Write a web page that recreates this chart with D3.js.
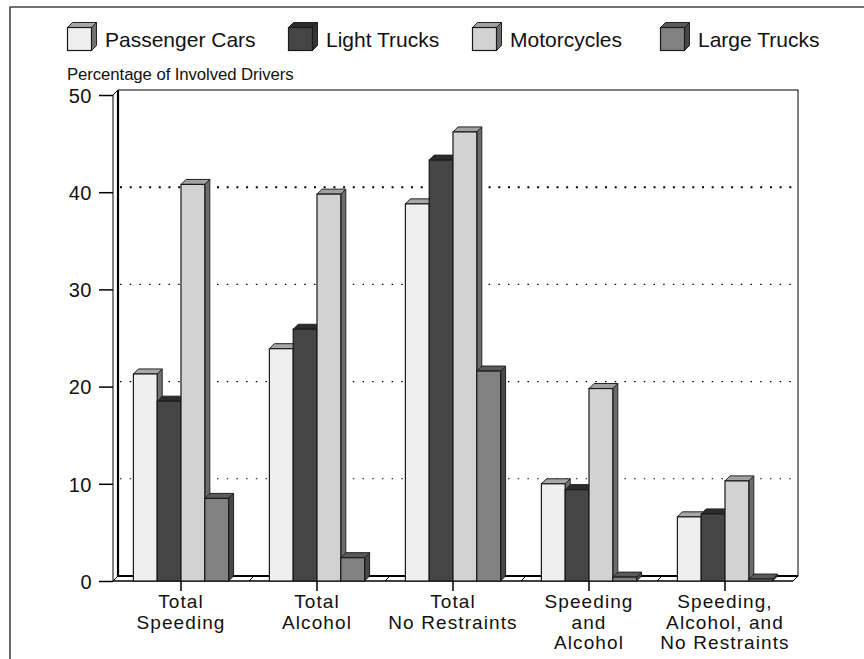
<!DOCTYPE html>
<html>
<head>
<meta charset="utf-8">
<script src="https://cdn.jsdelivr.net/npm/d3@7"></script>
<style>
  html, body { margin: 0; padding: 0; background: #fff; }
  svg { display: block; font-family: "Liberation Sans", Arial, Helvetica, sans-serif; }
</style>
</head>
<body>
<svg id="chart" width="864" height="659"></svg>
<script>
// Driver involvement by vehicle type (percent of involved drivers)
const categories = [
  ["Total", "Speeding"],
  ["Total", "Alcohol"],
  ["Total", "No Restraints"],
  ["Speeding", "and", "Alcohol"],
  ["Speeding,", "Alcohol, and", "No Restraints"]
];
const seriesNames = ["Passenger Cars", "Light Trucks", "Motorcycles", "Large Trucks"];
const passengerCars = [21.3, 23.9, 38.8, 10.0, 6.6];
const lightTrucks   = [18.5, 25.9, 43.3, 9.4, 6.9];
const motorcycles   = [40.8, 39.8, 46.2, 19.8, 10.3];
const largeTrucks   = [8.5, 2.4, 21.6, 0.4, 0.2];
const yTicks = [0, 10, 20, 30, 40, 50];
const yTitle = "Percentage of Involved Drivers";

const seriesValues = [passengerCars, lightTrucks, motorcycles, largeTrucks];
// front / top / side shades for each series
const shades = [
  { front: "#efefef", top: "#a8a8a8", side: "#727272" },
  { front: "#454545", top: "#2c2c2c", side: "#353535" },
  { front: "#d2d2d2", top: "#a2a2a2", side: "#6c6c6c" },
  { front: "#818181", top: "#5a5a5a", side: "#474747" }
];

const svg = d3.select("#chart");
const DX = 5, DY = 5;           // depth offset of the 3D box

// outer frame
svg.append("path")
  .attr("d", "M10,659 V7 H864")
  .attr("fill", "none").attr("stroke", "#444").attr("stroke-width", 1.6);

// scales
const x = d3.scaleBand().domain(d3.range(categories.length)).range([113, 793]).paddingInner(0).paddingOuter(0);
const y = d3.scaleLinear().domain([0, 50]).range([581, 95]);
const barW = 23.8;

function box(g, x0, yTop, yBot, w, sh) {
  // side face
  g.append("path")
    .attr("d", `M${x0 + w},${yTop} L${x0 + w + DX},${yTop - DY} L${x0 + w + DX},${yBot - DY} L${x0 + w},${yBot} Z`)
    .attr("fill", sh.side).attr("stroke", "#222").attr("stroke-width", 1).attr("stroke-linejoin", "round");
  // top face
  g.append("path")
    .attr("d", `M${x0},${yTop} L${x0 + DX},${yTop - DY} L${x0 + w + DX},${yTop - DY} L${x0 + w},${yTop} Z`)
    .attr("fill", sh.top).attr("stroke", "#222").attr("stroke-width", 1).attr("stroke-linejoin", "round");
  // front face
  g.append("rect")
    .attr("x", x0).attr("y", yTop).attr("width", w).attr("height", yBot - yTop)
    .attr("fill", sh.front).attr("stroke", "#1a1a1a").attr("stroke-width", 1.2);
}

// legend
const legendX = [67, 288, 472, 660];
const legend = svg.append("g");
seriesNames.forEach((name, i) => {
  const g = legend.append("g");
  box(g, legendX[i] + 0.5, 27.5, 50.5, 24, shades[i]);
  g.append("text")
    .attr("x", legendX[i] + 38).attr("y", 46.5)
    .attr("font-size", 21).attr("fill", "#111")
    .text(name);
});

// axis title
svg.append("text")
  .attr("x", 67).attr("y", 80)
  .attr("font-size", 16.8).attr("fill", "#111")
  .attr("letter-spacing", -0.1)
  .text(yTitle);

const plot = svg.append("g");
const xL = x.range()[0], xR = x.range()[1];

// back wall
plot.append("rect")
  .attr("x", xL + DX).attr("y", y(50) - DY)
  .attr("width", xR - xL).attr("height", y(0) - y(50))
  .attr("fill", "#fff").attr("stroke", "#000").attr("stroke-width", 1);
plot.append("path")
  .attr("d", `M${xL + DX},${y(50) - DY} V${y(0) - DY} H${xR + DX}`)
  .attr("fill", "none").attr("stroke", "#000").attr("stroke-width", 2.2);

// dotted gridlines on the back wall
plot.selectAll(".grid")
  .data(yTicks.filter(t => t > 0 && t < 50))
  .join("line")
  .attr("x1", xL + DX + 2).attr("x2", xR + DX)
  .attr("y1", d => y(d) - DY).attr("y2", d => y(d) - DY)
  .attr("stroke", "#000")
  .attr("stroke-width", d => d === 40 ? 2 : 1.1)
  .attr("stroke-dasharray", d => d === 40 ? "2,7.7" : "1.5,8.2");

// left side wall edge at top
plot.append("line")
  .attr("x1", xL).attr("y1", y(50)).attr("x2", xL + DX).attr("y2", y(50) - DY)
  .attr("stroke", "#000").attr("stroke-width", 1);

// floor: front edge, right edge, and category separators
plot.append("line")
  .attr("x1", xL).attr("x2", xR).attr("y1", y(0)).attr("y2", y(0))
  .attr("stroke", "#000").attr("stroke-width", 1.4);
const seps = d3.range(categories.length + 1).map(i => xL + i * x.bandwidth());
plot.selectAll(".sep")
  .data(seps)
  .join("line")
  .attr("x1", d => d).attr("y1", y(0))
  .attr("x2", d => d + DX).attr("y2", y(0) - DY)
  .attr("stroke", "#000").attr("stroke-width", 1);

// y axis
const yAxis = d3.axisLeft(y).tickValues(yTicks).tickSize(14).tickPadding(7).tickFormat(d3.format("d"));
const yg = plot.append("g").attr("transform", `translate(${xL},0)`).call(yAxis);
yg.select(".domain").attr("stroke", "#000").attr("stroke-width", 1).attr("d", `M0,${y(50)} V${y(0)}`);
yg.selectAll(".tick line").attr("stroke", "#000").attr("stroke-width", 1.5);
yg.selectAll(".tick text")
  .attr("font-size", 20).attr("fill", "#111")
  .attr("font-family", "Liberation Sans, Arial, sans-serif")
  .attr("letter-spacing", 0.5)
  .attr("dy", "0.36em");

// bars
categories.forEach((cat, ci) => {
  const cx = x(ci) + x.bandwidth() / 2;
  const g = plot.append("g");
  seriesValues.forEach((vals, si) => {
    const x0 = cx + (si - 2) * barW;
    box(g, x0, y(vals[ci]), y(0), barW, shades[si]);
  });
});

// category ticks and labels
categories.forEach((lines, ci) => {
  const cx = x(ci) + x.bandwidth() / 2;
  plot.append("line")
    .attr("x1", cx).attr("x2", cx).attr("y1", y(0)).attr("y2", y(0) + 10)
    .attr("stroke", "#000").attr("stroke-width", 1.5);
  const t = plot.append("text")
    .attr("text-anchor", "middle")
    .attr("font-size", 19).attr("fill", "#111")
    .attr("letter-spacing", 1.1);
  lines.forEach((ln, li) => {
    t.append("tspan").attr("x", cx).attr("y", 608 + li * 20.5).text(ln);
  });
});
</script>
</body>
</html>
